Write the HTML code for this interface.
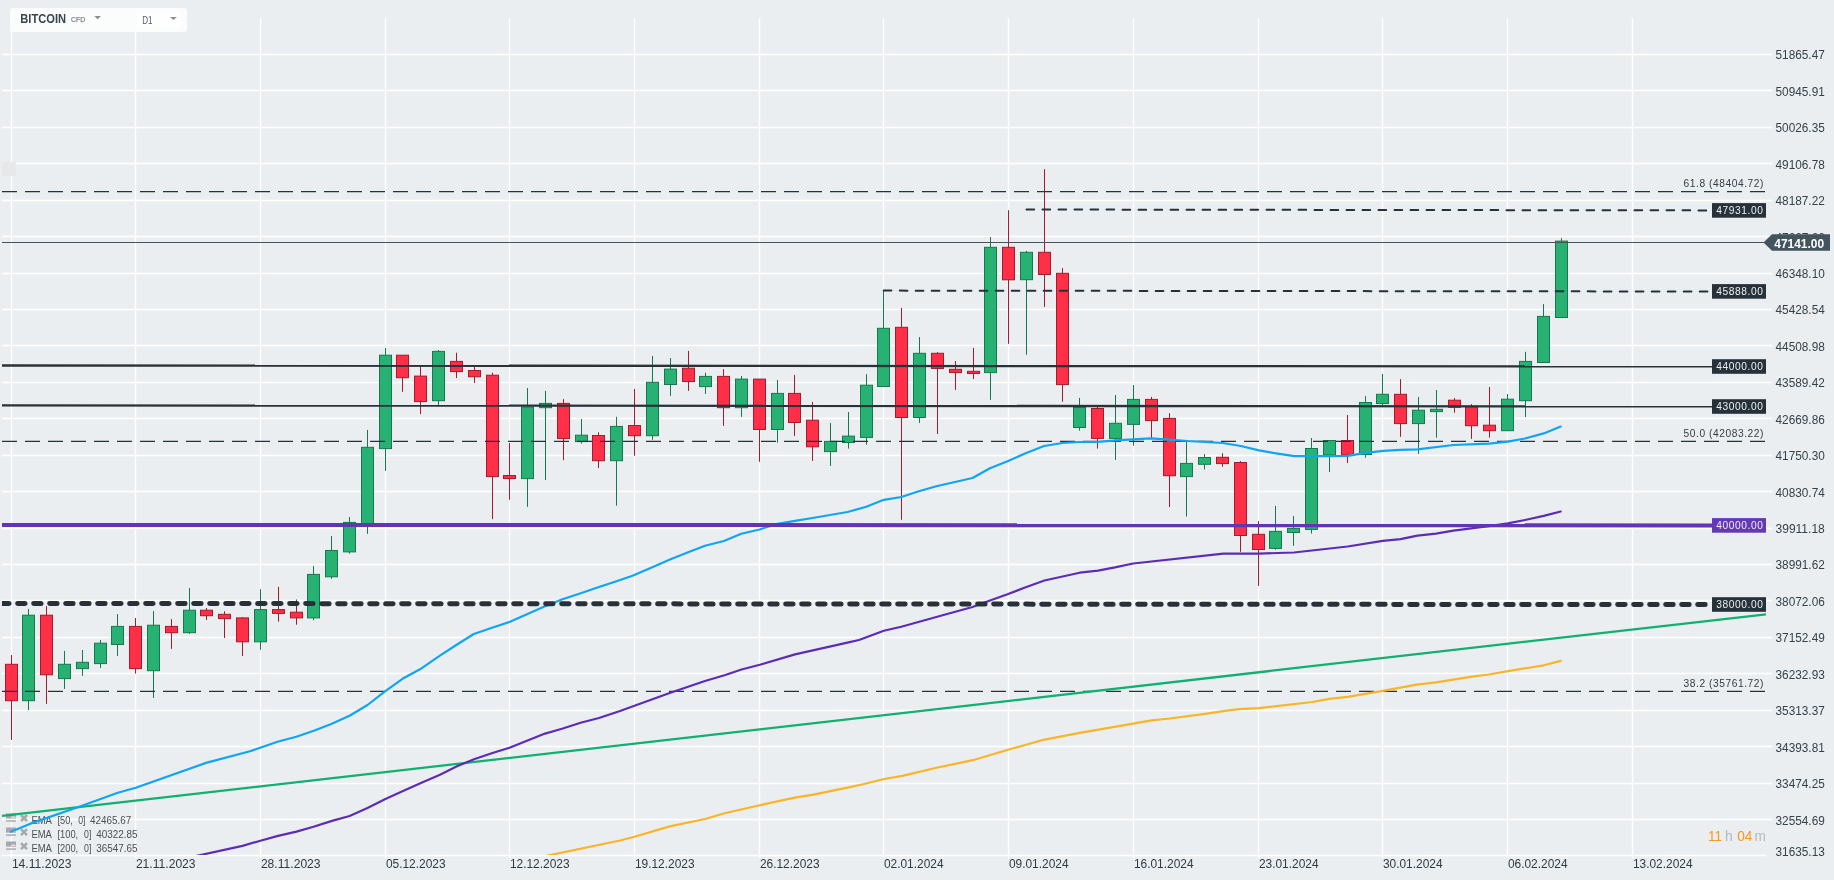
<!DOCTYPE html>
<html><head><meta charset="utf-8"><title>BITCOIN D1</title>
<style>html,body{margin:0;padding:0;background:#ebeef1;}body{width:1834px;height:880px;overflow:hidden;font-family:"Liberation Sans",sans-serif;}svg{display:block;will-change:transform;transform:translateZ(0);}text{font-family:"Liberation Sans",sans-serif;}</style>
</head><body>
<svg width="1834" height="880" viewBox="0 0 1834 880">
<rect x="0" y="0" width="1834" height="880" fill="#ebeef1"/>
<defs><clipPath id="cl"><rect x="2" y="0" width="1770" height="856"/></clipPath><clipPath id="cl2"><rect x="2" y="18" width="1770" height="837"/></clipPath></defs>
<g stroke="#ffffff" stroke-width="1.3" fill="none">
<line x1="11.5" y1="18" x2="11.5" y2="858"/>
<line x1="135.5" y1="18" x2="135.5" y2="858"/>
<line x1="260.5" y1="18" x2="260.5" y2="858"/>
<line x1="385.5" y1="18" x2="385.5" y2="858"/>
<line x1="509.5" y1="18" x2="509.5" y2="858"/>
<line x1="634.5" y1="18" x2="634.5" y2="858"/>
<line x1="759.5" y1="18" x2="759.5" y2="858"/>
<line x1="883.5" y1="18" x2="883.5" y2="858"/>
<line x1="1008.5" y1="18" x2="1008.5" y2="858"/>
<line x1="1133.5" y1="18" x2="1133.5" y2="858"/>
<line x1="1258.5" y1="18" x2="1258.5" y2="858"/>
<line x1="1382.5" y1="18" x2="1382.5" y2="858"/>
<line x1="1507.5" y1="18" x2="1507.5" y2="858"/>
<line x1="1632.5" y1="18" x2="1632.5" y2="858"/>
<line x1="2" y1="54.5" x2="1772" y2="54.5"/>
<line x1="2" y1="90.5" x2="1772" y2="90.5"/>
<line x1="2" y1="127.5" x2="1772" y2="127.5"/>
<line x1="2" y1="163.5" x2="1772" y2="163.5"/>
<line x1="2" y1="200.5" x2="1772" y2="200.5"/>
<line x1="2" y1="236.5" x2="1772" y2="236.5"/>
<line x1="2" y1="273.5" x2="1772" y2="273.5"/>
<line x1="2" y1="309.5" x2="1772" y2="309.5"/>
<line x1="2" y1="345.5" x2="1772" y2="345.5"/>
<line x1="2" y1="382.5" x2="1772" y2="382.5"/>
<line x1="2" y1="418.5" x2="1772" y2="418.5"/>
<line x1="2" y1="455.5" x2="1772" y2="455.5"/>
<line x1="2" y1="491.5" x2="1772" y2="491.5"/>
<line x1="2" y1="528.5" x2="1772" y2="528.5"/>
<line x1="2" y1="564.5" x2="1772" y2="564.5"/>
<line x1="2" y1="600.5" x2="1772" y2="600.5"/>
<line x1="2" y1="637.5" x2="1772" y2="637.5"/>
<line x1="2" y1="673.5" x2="1772" y2="673.5"/>
<line x1="2" y1="710.5" x2="1772" y2="710.5"/>
<line x1="2" y1="746.5" x2="1772" y2="746.5"/>
<line x1="2" y1="783.5" x2="1772" y2="783.5"/>
<line x1="2" y1="819.5" x2="1772" y2="819.5"/>
<line x1="2" y1="855.5" x2="1766" y2="855.5"/>
</g>
<rect x="2" y="162" width="14" height="14" fill="#e6e8ea"/>
<g font-size="12" fill="#36424a">
<text x="1775.5" y="58.8" textLength="49.3" lengthAdjust="spacingAndGlyphs">51865.47</text>
<text x="1775.5" y="95.8" textLength="49.3" lengthAdjust="spacingAndGlyphs">50945.91</text>
<text x="1775.5" y="131.8" textLength="49.3" lengthAdjust="spacingAndGlyphs">50026.35</text>
<text x="1775.5" y="168.8" textLength="49.3" lengthAdjust="spacingAndGlyphs">49106.78</text>
<text x="1775.5" y="204.8" textLength="49.3" lengthAdjust="spacingAndGlyphs">48187.22</text>
<text x="1775.5" y="241.8" textLength="49.3" lengthAdjust="spacingAndGlyphs">47267.66</text>
<text x="1775.5" y="277.8" textLength="49.3" lengthAdjust="spacingAndGlyphs">46348.10</text>
<text x="1775.5" y="313.8" textLength="49.3" lengthAdjust="spacingAndGlyphs">45428.54</text>
<text x="1775.5" y="350.8" textLength="49.3" lengthAdjust="spacingAndGlyphs">44508.98</text>
<text x="1775.5" y="386.8" textLength="49.3" lengthAdjust="spacingAndGlyphs">43589.42</text>
<text x="1775.5" y="423.8" textLength="49.3" lengthAdjust="spacingAndGlyphs">42669.86</text>
<text x="1775.5" y="459.8" textLength="49.3" lengthAdjust="spacingAndGlyphs">41750.30</text>
<text x="1775.5" y="496.8" textLength="49.3" lengthAdjust="spacingAndGlyphs">40830.74</text>
<text x="1775.5" y="532.8" textLength="49.3" lengthAdjust="spacingAndGlyphs">39911.18</text>
<text x="1775.5" y="568.8" textLength="49.3" lengthAdjust="spacingAndGlyphs">38991.62</text>
<text x="1775.5" y="605.8" textLength="49.3" lengthAdjust="spacingAndGlyphs">38072.06</text>
<text x="1775.5" y="641.8" textLength="49.3" lengthAdjust="spacingAndGlyphs">37152.49</text>
<text x="1775.5" y="678.8" textLength="49.3" lengthAdjust="spacingAndGlyphs">36232.93</text>
<text x="1775.5" y="714.8" textLength="49.3" lengthAdjust="spacingAndGlyphs">35313.37</text>
<text x="1775.5" y="751.8" textLength="49.3" lengthAdjust="spacingAndGlyphs">34393.81</text>
<text x="1775.5" y="787.8" textLength="49.3" lengthAdjust="spacingAndGlyphs">33474.25</text>
<text x="1775.5" y="824.8" textLength="49.3" lengthAdjust="spacingAndGlyphs">32554.69</text>
<text x="1775.5" y="855.9" textLength="49.3" lengthAdjust="spacingAndGlyphs">31635.13</text>
</g>
<g font-size="12" fill="#2f3a42">
<text x="11.9" y="868" textLength="59.7" lengthAdjust="spacingAndGlyphs">14.11.2023</text>
<text x="135.9" y="868" textLength="59.7" lengthAdjust="spacingAndGlyphs">21.11.2023</text>
<text x="260.9" y="868" textLength="59.7" lengthAdjust="spacingAndGlyphs">28.11.2023</text>
<text x="385.9" y="868" textLength="59.7" lengthAdjust="spacingAndGlyphs">05.12.2023</text>
<text x="509.9" y="868" textLength="59.7" lengthAdjust="spacingAndGlyphs">12.12.2023</text>
<text x="634.9" y="868" textLength="59.7" lengthAdjust="spacingAndGlyphs">19.12.2023</text>
<text x="759.9" y="868" textLength="59.7" lengthAdjust="spacingAndGlyphs">26.12.2023</text>
<text x="883.9" y="868" textLength="59.7" lengthAdjust="spacingAndGlyphs">02.01.2024</text>
<text x="1008.9" y="868" textLength="59.7" lengthAdjust="spacingAndGlyphs">09.01.2024</text>
<text x="1133.9" y="868" textLength="59.7" lengthAdjust="spacingAndGlyphs">16.01.2024</text>
<text x="1258.9" y="868" textLength="59.7" lengthAdjust="spacingAndGlyphs">23.01.2024</text>
<text x="1382.9" y="868" textLength="59.7" lengthAdjust="spacingAndGlyphs">30.01.2024</text>
<text x="1507.9" y="868" textLength="59.7" lengthAdjust="spacingAndGlyphs">06.02.2024</text>
<text x="1632.9" y="868" textLength="59.7" lengthAdjust="spacingAndGlyphs">13.02.2024</text>
</g>
<g stroke-width="1">
<line x1="11.5" y1="655.0" x2="11.5" y2="740.0" stroke="#a51a2d" stroke-width="1"/>
<rect x="5.5" y="664.3" width="12.0" height="36.4" fill="#fe2f47" stroke="#a51a2d"/>
<line x1="28.5" y1="608.9" x2="28.5" y2="710.0" stroke="#147a4e" stroke-width="1"/>
<rect x="22.5" y="615.2" width="12.0" height="85.5" fill="#27b173" stroke="#147a4e"/>
<line x1="46.5" y1="606.1" x2="46.5" y2="703.9" stroke="#a51a2d" stroke-width="1"/>
<rect x="40.5" y="615.2" width="12.0" height="59.6" fill="#fe2f47" stroke="#a51a2d"/>
<line x1="64.5" y1="650.9" x2="64.5" y2="688.9" stroke="#147a4e" stroke-width="1"/>
<rect x="58.5" y="664.3" width="12.0" height="14.3" fill="#27b173" stroke="#147a4e"/>
<line x1="82.5" y1="650.0" x2="82.5" y2="675.9" stroke="#147a4e" stroke-width="1"/>
<rect x="76.5" y="662.3" width="12.0" height="6.3" fill="#27b173" stroke="#147a4e"/>
<line x1="100.5" y1="640.0" x2="100.5" y2="668.0" stroke="#147a4e" stroke-width="1"/>
<rect x="94.5" y="643.2" width="12.0" height="20.4" fill="#27b173" stroke="#147a4e"/>
<line x1="117.5" y1="614.1" x2="117.5" y2="655.9" stroke="#147a4e" stroke-width="1"/>
<rect x="111.5" y="626.4" width="12.0" height="18.1" fill="#27b173" stroke="#147a4e"/>
<line x1="135.5" y1="618.0" x2="135.5" y2="673.6" stroke="#a51a2d" stroke-width="1"/>
<rect x="129.5" y="626.4" width="12.0" height="42.2" fill="#fe2f47" stroke="#a51a2d"/>
<line x1="153.5" y1="611.1" x2="153.5" y2="698.0" stroke="#147a4e" stroke-width="1"/>
<rect x="147.5" y="625.2" width="12.0" height="45.5" fill="#27b173" stroke="#147a4e"/>
<line x1="171.5" y1="619.1" x2="171.5" y2="648.9" stroke="#a51a2d" stroke-width="1"/>
<rect x="165.5" y="626.4" width="12.0" height="6.3" fill="#fe2f47" stroke="#a51a2d"/>
<line x1="189.5" y1="588.0" x2="189.5" y2="633.9" stroke="#147a4e" stroke-width="1"/>
<rect x="183.5" y="610.2" width="12.0" height="22.5" fill="#27b173" stroke="#147a4e"/>
<line x1="206.5" y1="608.0" x2="206.5" y2="620.0" stroke="#a51a2d" stroke-width="1"/>
<rect x="200.5" y="610.2" width="12.0" height="5.5" fill="#fe2f47" stroke="#a51a2d"/>
<line x1="224.5" y1="611.2" x2="224.5" y2="638.0" stroke="#a51a2d" stroke-width="1"/>
<rect x="218.5" y="614.3" width="12.0" height="4.3" fill="#fe2f47" stroke="#a51a2d"/>
<line x1="242.5" y1="617.0" x2="242.5" y2="656.0" stroke="#a51a2d" stroke-width="1"/>
<rect x="236.5" y="617.9" width="12.0" height="23.9" fill="#fe2f47" stroke="#a51a2d"/>
<line x1="260.5" y1="589.2" x2="260.5" y2="649.8" stroke="#147a4e" stroke-width="1"/>
<rect x="254.5" y="609.6" width="12.0" height="32.2" fill="#27b173" stroke="#147a4e"/>
<line x1="278.5" y1="586.8" x2="278.5" y2="621.7" stroke="#a51a2d" stroke-width="1"/>
<rect x="272.5" y="609.6" width="12.0" height="3.8" fill="#fe2f47" stroke="#a51a2d"/>
<line x1="296.5" y1="599.5" x2="296.5" y2="624.7" stroke="#a51a2d" stroke-width="1"/>
<rect x="290.5" y="612.2" width="12.0" height="5.7" fill="#fe2f47" stroke="#a51a2d"/>
<line x1="313.5" y1="566.1" x2="313.5" y2="620.2" stroke="#147a4e" stroke-width="1"/>
<rect x="307.5" y="574.4" width="12.0" height="43.5" fill="#27b173" stroke="#147a4e"/>
<line x1="331.5" y1="536.0" x2="331.5" y2="578.8" stroke="#147a4e" stroke-width="1"/>
<rect x="325.5" y="550.5" width="12.0" height="26.3" fill="#27b173" stroke="#147a4e"/>
<line x1="349.5" y1="517.0" x2="349.5" y2="553.7" stroke="#147a4e" stroke-width="1"/>
<rect x="343.5" y="522.4" width="12.0" height="29.5" fill="#27b173" stroke="#147a4e"/>
<line x1="367.5" y1="429.9" x2="367.5" y2="533.9" stroke="#147a4e" stroke-width="1"/>
<rect x="361.5" y="447.3" width="12.0" height="76.3" fill="#27b173" stroke="#147a4e"/>
<line x1="385.5" y1="348.0" x2="385.5" y2="470.9" stroke="#147a4e" stroke-width="1"/>
<rect x="379.5" y="355.2" width="12.0" height="93.4" fill="#27b173" stroke="#147a4e"/>
<line x1="402.5" y1="355.2" x2="402.5" y2="391.8" stroke="#a51a2d" stroke-width="1"/>
<rect x="396.5" y="355.2" width="12.0" height="22.5" fill="#fe2f47" stroke="#a51a2d"/>
<line x1="420.5" y1="366.4" x2="420.5" y2="414.1" stroke="#a51a2d" stroke-width="1"/>
<rect x="414.5" y="376.1" width="12.0" height="25.5" fill="#fe2f47" stroke="#a51a2d"/>
<line x1="438.5" y1="350.0" x2="438.5" y2="405.0" stroke="#147a4e" stroke-width="1"/>
<rect x="432.5" y="351.4" width="12.0" height="49.3" fill="#27b173" stroke="#147a4e"/>
<line x1="456.5" y1="352.7" x2="456.5" y2="378.0" stroke="#a51a2d" stroke-width="1"/>
<rect x="450.5" y="361.4" width="12.0" height="10.2" fill="#fe2f47" stroke="#a51a2d"/>
<line x1="474.5" y1="367.0" x2="474.5" y2="383.0" stroke="#a51a2d" stroke-width="1"/>
<rect x="468.5" y="370.5" width="12.0" height="6.3" fill="#fe2f47" stroke="#a51a2d"/>
<line x1="492.5" y1="372.7" x2="492.5" y2="519.1" stroke="#a51a2d" stroke-width="1"/>
<rect x="486.5" y="375.2" width="12.0" height="101.4" fill="#fe2f47" stroke="#a51a2d"/>
<line x1="509.5" y1="443.0" x2="509.5" y2="499.8" stroke="#a51a2d" stroke-width="1"/>
<rect x="503.5" y="475.5" width="12.0" height="3.1" fill="#fe2f47" stroke="#a51a2d"/>
<line x1="527.5" y1="388.0" x2="527.5" y2="506.8" stroke="#147a4e" stroke-width="1"/>
<rect x="521.5" y="407.0" width="12.0" height="71.6" fill="#27b173" stroke="#147a4e"/>
<line x1="545.5" y1="390.9" x2="545.5" y2="480.0" stroke="#147a4e" stroke-width="1"/>
<rect x="539.5" y="403.4" width="12.0" height="4.3" fill="#27b173" stroke="#147a4e"/>
<line x1="563.5" y1="399.1" x2="563.5" y2="460.2" stroke="#a51a2d" stroke-width="1"/>
<rect x="557.5" y="403.4" width="12.0" height="35.2" fill="#fe2f47" stroke="#a51a2d"/>
<line x1="581.5" y1="418.9" x2="581.5" y2="443.6" stroke="#147a4e" stroke-width="1"/>
<rect x="575.5" y="435.2" width="12.0" height="6.4" fill="#27b173" stroke="#147a4e"/>
<line x1="598.5" y1="432.3" x2="598.5" y2="468.0" stroke="#a51a2d" stroke-width="1"/>
<rect x="592.5" y="435.5" width="12.0" height="25.2" fill="#fe2f47" stroke="#a51a2d"/>
<line x1="616.5" y1="416.8" x2="616.5" y2="505.7" stroke="#147a4e" stroke-width="1"/>
<rect x="610.5" y="426.4" width="12.0" height="34.3" fill="#27b173" stroke="#147a4e"/>
<line x1="634.5" y1="388.9" x2="634.5" y2="455.7" stroke="#a51a2d" stroke-width="1"/>
<rect x="628.5" y="425.5" width="12.0" height="10.2" fill="#fe2f47" stroke="#a51a2d"/>
<line x1="652.5" y1="355.9" x2="652.5" y2="439.8" stroke="#147a4e" stroke-width="1"/>
<rect x="646.5" y="382.3" width="12.0" height="53.4" fill="#27b173" stroke="#147a4e"/>
<line x1="670.5" y1="358.0" x2="670.5" y2="395.9" stroke="#147a4e" stroke-width="1"/>
<rect x="664.5" y="369.1" width="12.0" height="15.4" fill="#27b173" stroke="#147a4e"/>
<line x1="688.5" y1="350.9" x2="688.5" y2="390.9" stroke="#a51a2d" stroke-width="1"/>
<rect x="682.5" y="368.2" width="12.0" height="13.4" fill="#fe2f47" stroke="#a51a2d"/>
<line x1="705.5" y1="372.7" x2="705.5" y2="393.9" stroke="#147a4e" stroke-width="1"/>
<rect x="699.5" y="376.4" width="12.0" height="10.2" fill="#27b173" stroke="#147a4e"/>
<line x1="723.5" y1="369.1" x2="723.5" y2="425.9" stroke="#a51a2d" stroke-width="1"/>
<rect x="717.5" y="376.4" width="12.0" height="31.3" fill="#fe2f47" stroke="#a51a2d"/>
<line x1="741.5" y1="375.9" x2="741.5" y2="416.8" stroke="#147a4e" stroke-width="1"/>
<rect x="735.5" y="379.1" width="12.0" height="28.6" fill="#27b173" stroke="#147a4e"/>
<line x1="759.5" y1="379.1" x2="759.5" y2="461.8" stroke="#a51a2d" stroke-width="1"/>
<rect x="753.5" y="379.1" width="12.0" height="50.4" fill="#fe2f47" stroke="#a51a2d"/>
<line x1="777.5" y1="380.0" x2="777.5" y2="442.7" stroke="#147a4e" stroke-width="1"/>
<rect x="771.5" y="393.4" width="12.0" height="36.1" fill="#27b173" stroke="#147a4e"/>
<line x1="794.5" y1="375.0" x2="794.5" y2="435.9" stroke="#a51a2d" stroke-width="1"/>
<rect x="788.5" y="393.4" width="12.0" height="29.1" fill="#fe2f47" stroke="#a51a2d"/>
<line x1="812.5" y1="402.0" x2="812.5" y2="460.9" stroke="#a51a2d" stroke-width="1"/>
<rect x="806.5" y="420.2" width="12.0" height="26.6" fill="#fe2f47" stroke="#a51a2d"/>
<line x1="830.5" y1="423.0" x2="830.5" y2="465.9" stroke="#147a4e" stroke-width="1"/>
<rect x="824.5" y="441.4" width="12.0" height="10.2" fill="#27b173" stroke="#147a4e"/>
<line x1="848.5" y1="412.0" x2="848.5" y2="448.6" stroke="#147a4e" stroke-width="1"/>
<rect x="842.5" y="436.1" width="12.0" height="6.4" fill="#27b173" stroke="#147a4e"/>
<line x1="866.5" y1="374.2" x2="866.5" y2="444.8" stroke="#147a4e" stroke-width="1"/>
<rect x="860.5" y="385.2" width="12.0" height="52.2" fill="#27b173" stroke="#147a4e"/>
<line x1="883.5" y1="290.5" x2="883.5" y2="386.5" stroke="#147a4e" stroke-width="1"/>
<rect x="877.5" y="328.3" width="12.0" height="58.2" fill="#27b173" stroke="#147a4e"/>
<line x1="901.5" y1="307.9" x2="901.5" y2="519.8" stroke="#a51a2d" stroke-width="1"/>
<rect x="895.5" y="327.3" width="12.0" height="90.2" fill="#fe2f47" stroke="#a51a2d"/>
<line x1="919.5" y1="337.0" x2="919.5" y2="422.9" stroke="#147a4e" stroke-width="1"/>
<rect x="913.5" y="353.3" width="12.0" height="64.2" fill="#27b173" stroke="#147a4e"/>
<line x1="937.5" y1="352.1" x2="937.5" y2="434.0" stroke="#a51a2d" stroke-width="1"/>
<rect x="931.5" y="353.3" width="12.0" height="15.2" fill="#fe2f47" stroke="#a51a2d"/>
<line x1="955.5" y1="361.0" x2="955.5" y2="389.9" stroke="#a51a2d" stroke-width="1"/>
<rect x="949.5" y="369.3" width="12.0" height="3.3" fill="#fe2f47" stroke="#a51a2d"/>
<line x1="973.5" y1="347.9" x2="973.5" y2="379.0" stroke="#a51a2d" stroke-width="1"/>
<rect x="967.5" y="371.3" width="12.0" height="2.2" fill="#fe2f47" stroke="#a51a2d"/>
<line x1="990.5" y1="237.0" x2="990.5" y2="399.9" stroke="#147a4e" stroke-width="1"/>
<rect x="984.5" y="247.3" width="12.0" height="125.3" fill="#27b173" stroke="#147a4e"/>
<line x1="1008.5" y1="210.2" x2="1008.5" y2="343.8" stroke="#a51a2d" stroke-width="1"/>
<rect x="1002.5" y="247.3" width="12.0" height="32.5" fill="#fe2f47" stroke="#a51a2d"/>
<line x1="1026.5" y1="250.8" x2="1026.5" y2="354.8" stroke="#147a4e" stroke-width="1"/>
<rect x="1020.5" y="252.3" width="12.0" height="27.4" fill="#27b173" stroke="#147a4e"/>
<line x1="1044.5" y1="169.1" x2="1044.5" y2="306.9" stroke="#a51a2d" stroke-width="1"/>
<rect x="1038.5" y="252.3" width="12.0" height="22.2" fill="#fe2f47" stroke="#a51a2d"/>
<line x1="1062.5" y1="268.1" x2="1062.5" y2="401.8" stroke="#a51a2d" stroke-width="1"/>
<rect x="1056.5" y="273.3" width="12.0" height="111.3" fill="#fe2f47" stroke="#a51a2d"/>
<line x1="1079.5" y1="397.9" x2="1079.5" y2="430.7" stroke="#147a4e" stroke-width="1"/>
<rect x="1073.5" y="407.4" width="12.0" height="20.1" fill="#27b173" stroke="#147a4e"/>
<line x1="1097.5" y1="406.6" x2="1097.5" y2="448.6" stroke="#a51a2d" stroke-width="1"/>
<rect x="1091.5" y="408.5" width="12.0" height="29.9" fill="#fe2f47" stroke="#a51a2d"/>
<line x1="1115.5" y1="395.0" x2="1115.5" y2="459.8" stroke="#147a4e" stroke-width="1"/>
<rect x="1109.5" y="423.3" width="12.0" height="15.1" fill="#27b173" stroke="#147a4e"/>
<line x1="1133.5" y1="385.0" x2="1133.5" y2="445.7" stroke="#147a4e" stroke-width="1"/>
<rect x="1127.5" y="399.4" width="12.0" height="25.0" fill="#27b173" stroke="#147a4e"/>
<line x1="1151.5" y1="396.9" x2="1151.5" y2="438.9" stroke="#a51a2d" stroke-width="1"/>
<rect x="1145.5" y="399.4" width="12.0" height="21.2" fill="#fe2f47" stroke="#a51a2d"/>
<line x1="1169.5" y1="413.1" x2="1169.5" y2="507.0" stroke="#a51a2d" stroke-width="1"/>
<rect x="1163.5" y="418.4" width="12.0" height="57.3" fill="#fe2f47" stroke="#a51a2d"/>
<line x1="1186.5" y1="441.1" x2="1186.5" y2="516.6" stroke="#147a4e" stroke-width="1"/>
<rect x="1180.5" y="463.4" width="12.0" height="13.2" fill="#27b173" stroke="#147a4e"/>
<line x1="1204.5" y1="454.1" x2="1204.5" y2="469.5" stroke="#147a4e" stroke-width="1"/>
<rect x="1198.5" y="457.5" width="12.0" height="6.8" fill="#27b173" stroke="#147a4e"/>
<line x1="1222.5" y1="453.2" x2="1222.5" y2="466.8" stroke="#a51a2d" stroke-width="1"/>
<rect x="1216.5" y="457.3" width="12.0" height="6.3" fill="#fe2f47" stroke="#a51a2d"/>
<line x1="1240.5" y1="461.1" x2="1240.5" y2="551.8" stroke="#a51a2d" stroke-width="1"/>
<rect x="1234.5" y="462.5" width="12.0" height="73.0" fill="#fe2f47" stroke="#a51a2d"/>
<line x1="1258.5" y1="521.1" x2="1258.5" y2="585.9" stroke="#a51a2d" stroke-width="1"/>
<rect x="1252.5" y="534.3" width="12.0" height="15.2" fill="#fe2f47" stroke="#a51a2d"/>
<line x1="1275.5" y1="505.9" x2="1275.5" y2="549.8" stroke="#147a4e" stroke-width="1"/>
<rect x="1269.5" y="531.4" width="12.0" height="17.0" fill="#27b173" stroke="#147a4e"/>
<line x1="1293.5" y1="516.0" x2="1293.5" y2="545.8" stroke="#147a4e" stroke-width="1"/>
<rect x="1287.5" y="528.4" width="12.0" height="4.1" fill="#27b173" stroke="#147a4e"/>
<line x1="1311.5" y1="438.0" x2="1311.5" y2="533.6" stroke="#147a4e" stroke-width="1"/>
<rect x="1305.5" y="448.5" width="12.0" height="80.9" fill="#27b173" stroke="#147a4e"/>
<line x1="1329.5" y1="440.0" x2="1329.5" y2="472.0" stroke="#147a4e" stroke-width="1"/>
<rect x="1323.5" y="440.5" width="12.0" height="14.5" fill="#27b173" stroke="#147a4e"/>
<line x1="1347.5" y1="415.0" x2="1347.5" y2="463.0" stroke="#a51a2d" stroke-width="1"/>
<rect x="1341.5" y="440.5" width="12.0" height="14.5" fill="#fe2f47" stroke="#a51a2d"/>
<line x1="1365.5" y1="396.1" x2="1365.5" y2="457.7" stroke="#147a4e" stroke-width="1"/>
<rect x="1359.5" y="402.5" width="12.0" height="52.0" fill="#27b173" stroke="#147a4e"/>
<line x1="1382.5" y1="373.9" x2="1382.5" y2="405.2" stroke="#147a4e" stroke-width="1"/>
<rect x="1376.5" y="394.3" width="12.0" height="9.3" fill="#27b173" stroke="#147a4e"/>
<line x1="1400.5" y1="379.1" x2="1400.5" y2="436.8" stroke="#a51a2d" stroke-width="1"/>
<rect x="1394.5" y="394.3" width="12.0" height="29.3" fill="#fe2f47" stroke="#a51a2d"/>
<line x1="1418.5" y1="397.0" x2="1418.5" y2="453.9" stroke="#147a4e" stroke-width="1"/>
<rect x="1412.5" y="410.2" width="12.0" height="13.4" fill="#27b173" stroke="#147a4e"/>
<line x1="1436.5" y1="390.0" x2="1436.5" y2="437.7" stroke="#147a4e" stroke-width="1"/>
<rect x="1430.5" y="409.3" width="12.0" height="2.3" fill="#27b173" stroke="#147a4e"/>
<line x1="1454.5" y1="398.0" x2="1454.5" y2="412.7" stroke="#a51a2d" stroke-width="1"/>
<rect x="1448.5" y="400.2" width="12.0" height="7.1" fill="#fe2f47" stroke="#a51a2d"/>
<line x1="1471.5" y1="404.1" x2="1471.5" y2="438.9" stroke="#a51a2d" stroke-width="1"/>
<rect x="1465.5" y="406.8" width="12.0" height="18.9" fill="#fe2f47" stroke="#a51a2d"/>
<line x1="1489.5" y1="387.0" x2="1489.5" y2="437.7" stroke="#a51a2d" stroke-width="1"/>
<rect x="1483.5" y="425.2" width="12.0" height="5.5" fill="#fe2f47" stroke="#a51a2d"/>
<line x1="1507.5" y1="394.0" x2="1507.5" y2="430.7" stroke="#147a4e" stroke-width="1"/>
<rect x="1501.5" y="399.2" width="12.0" height="31.5" fill="#27b173" stroke="#147a4e"/>
<line x1="1525.5" y1="351.8" x2="1525.5" y2="417.0" stroke="#147a4e" stroke-width="1"/>
<rect x="1519.5" y="361.4" width="12.0" height="39.3" fill="#27b173" stroke="#147a4e"/>
<line x1="1543.5" y1="304.1" x2="1543.5" y2="362.5" stroke="#147a4e" stroke-width="1"/>
<rect x="1537.5" y="316.4" width="12.0" height="46.1" fill="#27b173" stroke="#147a4e"/>
<line x1="1561.5" y1="238.2" x2="1561.5" y2="317.5" stroke="#147a4e" stroke-width="1"/>
<rect x="1555.5" y="241.1" width="12.0" height="76.4" fill="#27b173" stroke="#147a4e"/>
</g>
<g stroke="#273138" stroke-width="1.25" stroke-dasharray="15 8" fill="none">
<line x1="2" y1="191.5" x2="1766" y2="191.5"/>
<line x1="2" y1="441.4" x2="1766" y2="441.4"/>
<line x1="2" y1="691.3" x2="1766" y2="691.3"/>
</g>
<line x1="2" y1="365.5" x2="1713" y2="366.4" stroke="#27323a" stroke-width="2.3"/>
<line x1="2" y1="405.4" x2="1713" y2="406.4" stroke="#27323a" stroke-width="2.3"/>
<rect x="6" y="813.4" width="10" height="5.1" fill="#a7a8a9"/>
<rect x="11.2" y="816.5" width="4.2" height="1.4" fill="#e2e4e6"/>
<rect x="6" y="820.3" width="10" height="1.4" fill="#a7a8a9"/>
<path d="M21,815.0 L27,821.0 M27,815.0 L21,821.0" stroke="#a7a8a9" stroke-width="2.6" fill="none"/>
<g font-size="10" fill="#4c5053">
<text x="31.4" y="823.9" textLength="20.5" lengthAdjust="spacingAndGlyphs">EMA</text>
<text x="57.5" y="823.9" textLength="15.3" lengthAdjust="spacingAndGlyphs">[50,</text>
<text x="78.2" y="823.9" textLength="7.3" lengthAdjust="spacingAndGlyphs">0]</text>
<text x="90.0" y="823.9" textLength="41.4" lengthAdjust="spacingAndGlyphs">42465.67</text>
</g>
<rect x="6" y="827.5" width="10" height="5.1" fill="#a7a8a9"/>
<rect x="11.2" y="830.6" width="4.2" height="1.4" fill="#e2e4e6"/>
<rect x="6" y="834.4" width="10" height="1.4" fill="#a7a8a9"/>
<path d="M21,829.1 L27,835.1 M27,829.1 L21,835.1" stroke="#a7a8a9" stroke-width="2.6" fill="none"/>
<g font-size="10" fill="#4c5053">
<text x="31.4" y="838.0" textLength="20.5" lengthAdjust="spacingAndGlyphs">EMA</text>
<text x="57.5" y="838.0" textLength="20.7" lengthAdjust="spacingAndGlyphs">[100,</text>
<text x="84.1" y="838.0" textLength="7.3" lengthAdjust="spacingAndGlyphs">0]</text>
<text x="96.2" y="838.0" textLength="41.4" lengthAdjust="spacingAndGlyphs">40322.85</text>
</g>
<rect x="6" y="841.5" width="10" height="5.1" fill="#a7a8a9"/>
<rect x="11.2" y="844.6" width="4.2" height="1.4" fill="#e2e4e6"/>
<rect x="6" y="848.4" width="10" height="1.4" fill="#a7a8a9"/>
<path d="M21,843.1 L27,849.1 M27,843.1 L21,849.1" stroke="#a7a8a9" stroke-width="2.6" fill="none"/>
<g font-size="10" fill="#4c5053">
<text x="31.4" y="852.0" textLength="20.5" lengthAdjust="spacingAndGlyphs">EMA</text>
<text x="57.5" y="852.0" textLength="20.7" lengthAdjust="spacingAndGlyphs">[200,</text>
<text x="84.1" y="852.0" textLength="7.3" lengthAdjust="spacingAndGlyphs">0]</text>
<text x="96.2" y="852.0" textLength="41.4" lengthAdjust="spacingAndGlyphs">36547.65</text>
</g>
<line x1="2" y1="815.9" x2="1766" y2="614.3" stroke="#10b070" stroke-width="2.25"/>
<path d="M536.0,858.0 L546.5,855.8 L620.0,840.5 L634.4,836.8 L669.7,826.4 L705.0,819.0 L724.5,813.3 L759.8,805.2 L795.0,797.6 L813.4,794.7 L847.4,787.7 L863.0,784.3 L884.0,779.0 L902.3,775.9 L937.6,767.5 L972.8,760.2 L1008.0,749.8 L1043.4,739.8 L1079.7,732.9 L1133.2,723.7 L1151.5,720.3 L1169.8,718.5 L1205.0,713.8 L1223.4,711.2 L1239.0,709.1 L1258.7,708.1 L1312.3,702.0 L1329.3,698.9 L1347.6,696.8 L1382.8,690.8 L1416.8,684.6 L1436.0,682.4 L1472.0,676.6 L1489.0,674.5 L1507.9,671.1 L1543.7,665.3 L1560.7,660.9" stroke="#f8b527" stroke-width="2.2" fill="none" stroke-linejoin="round" stroke-linecap="round" clip-path="url(#cl2)"/>
<path d="M186.0,858.0 L197.0,855.8 L242.5,845.9 L260.4,840.7 L278.0,835.9 L296.5,831.6 L313.5,826.8 L332.0,820.9 L349.6,816.0 L367.5,808.0 L385.4,799.0 L403.0,791.0 L421.5,782.8 L440.0,774.8 L457.0,766.3 L474.0,759.2 L492.5,753.0 L509.5,747.8 L545.0,733.6 L562.0,728.8 L580.6,722.8 L599.0,718.0 L620.0,711.0 L669.7,693.0 L705.0,681.0 L724.5,675.3 L741.5,669.5 L759.8,664.8 L795.0,654.4 L847.4,642.6 L859.0,640.0 L883.8,630.8 L901.3,626.8 L936.3,617.0 L972.5,607.0 L990.0,600.5 L1007.5,594.3 L1025.0,587.5 L1044.4,580.5 L1079.7,572.7 L1098.0,570.6 L1115.0,567.4 L1133.2,563.5 L1223.4,553.6 L1258.7,553.6 L1294.0,552.5 L1347.6,546.5 L1382.8,540.8 L1400.5,539.1 L1417.5,535.7 L1436.0,533.7 L1453.3,530.6 L1489.0,526.2 L1507.9,523.4 L1525.0,520.0 L1543.7,515.9 L1560.7,511.5" stroke="#5d2cb5" stroke-width="2.2" fill="none" stroke-linejoin="round" stroke-linecap="round" clip-path="url(#cl2)"/>
<path d="M10.9,831.8 L31.0,823.4 L78.5,807.0 L117.8,792.7 L135.8,787.8 L206.0,762.9 L250.0,751.3 L277.5,741.8 L296.3,736.8 L313.8,730.8 L331.3,724.0 L350.0,715.5 L367.5,705.0 L385.0,691.3 L402.5,678.8 L420.0,669.3 L438.8,656.3 L456.3,645.0 L473.8,634.0 L491.3,628.0 L510.0,621.8 L527.5,614.0 L545.0,606.3 L562.5,599.3 L580.0,593.5 L597.5,587.5 L615.0,581.8 L632.5,575.8 L650.0,568.3 L670.0,559.5 L687.5,552.5 L705.0,545.8 L723.8,541.0 L741.3,533.8 L759.5,529.5 L777.5,523.8 L795.0,520.8 L812.5,518.0 L830.0,515.0 L847.5,512.0 L866.3,506.8 L883.8,499.8 L901.3,497.0 L918.8,491.3 L936.3,486.3 L955.0,482.0 L972.5,478.0 L990.0,468.3 L1007.5,461.3 L1025.0,453.5 L1044.1,446.0 L1062.3,443.0 L1079.4,442.0 L1097.6,441.8 L1115.7,440.3 L1132.9,439.3 L1151.0,438.3 L1169.2,439.7 L1187.4,441.0 L1204.5,441.8 L1222.7,443.0 L1240.8,446.0 L1259.0,450.4 L1276.1,453.3 L1294.3,456.1 L1312.4,456.1 L1329.6,456.1 L1347.7,455.9 L1365.9,452.9 L1383.0,450.8 L1400.0,449.8 L1417.5,449.4 L1453.3,445.0 L1489.0,443.6 L1507.9,441.6 L1525.0,438.5 L1543.7,433.4 L1560.7,426.6" stroke="#10a5f2" stroke-width="2.2" fill="none" stroke-linejoin="round" stroke-linecap="round" clip-path="url(#cl2)"/>
<line x1="2" y1="524.9" x2="1713" y2="525.4" stroke="#6335b5" stroke-width="4"/>
<line x1="1.7" y1="603.4" x2="1708" y2="604.6" stroke="#26313a" stroke-width="5" stroke-dasharray="7.4 8.6" stroke-linecap="round" clip-path="url(#cl)"/>
<line x1="1026.5" y1="209.5" x2="1710" y2="210.4" stroke="#26313a" stroke-width="2" stroke-dasharray="7.7 8.3" stroke-linecap="round"/>
<line x1="883.7" y1="290.6" x2="1710" y2="291.5" stroke="#26313a" stroke-width="2" stroke-dasharray="7.7 8.3" stroke-linecap="round"/>
<line x1="2" y1="242.5" x2="1766" y2="242.5" stroke="#44545f" stroke-width="1.2"/>
<rect x="1712" y="203.1" width="54" height="14.6" fill="#26313a"/>
<text x="1716.2" y="213.9" font-size="10.2" fill="#efefef" textLength="46.8" lengthAdjust="spacing">47931.00</text>
<rect x="1712" y="284.1" width="54" height="14.6" fill="#26313a"/>
<text x="1716.2" y="294.9" font-size="10.2" fill="#efefef" textLength="46.8" lengthAdjust="spacing">45888.00</text>
<rect x="1712" y="359.2" width="54" height="14.6" fill="#26313a"/>
<text x="1716.2" y="370.0" font-size="10.2" fill="#efefef" textLength="46.8" lengthAdjust="spacing">44000.00</text>
<rect x="1712" y="399.2" width="54" height="14.6" fill="#26313a"/>
<text x="1716.2" y="410.0" font-size="10.2" fill="#efefef" textLength="46.8" lengthAdjust="spacing">43000.00</text>
<rect x="1712" y="518.1" width="54" height="14.6" fill="#6538b6"/>
<text x="1716.2" y="528.9" font-size="10.2" fill="#efefef" textLength="46.8" lengthAdjust="spacing">40000.00</text>
<rect x="1712" y="597.2" width="54" height="14.6" fill="#26313a"/>
<text x="1716.2" y="608.0" font-size="10.2" fill="#efefef" textLength="46.8" lengthAdjust="spacing">38000.00</text>
<text x="1763.5" y="187.3" font-size="10.2" fill="#333c42" text-anchor="end" textLength="80" lengthAdjust="spacing">61.8 (48404.72)</text>
<text x="1763.5" y="436.9" font-size="10.2" fill="#333c42" text-anchor="end" textLength="80" lengthAdjust="spacing">50.0 (42083.22)</text>
<text x="1763.5" y="687.0" font-size="10.2" fill="#333c42" text-anchor="end" textLength="80" lengthAdjust="spacing">38.2 (35761.72)</text>
<path d="M1763.5,242.5 L1772,234.2 L1830,234.2 L1830,250.8 L1772,250.8 Z" fill="#44545f"/>
<text x="1774.3" y="247.6" font-size="12" font-weight="bold" fill="#ffffff" textLength="49.8" lengthAdjust="spacingAndGlyphs">47141.00</text>
<g font-size="14">
<text x="1708" y="841" fill="#ff9416" textLength="14" lengthAdjust="spacingAndGlyphs">11</text>
<text x="1725" y="841" fill="#b4b9bd">h</text>
<text x="1737.2" y="841" fill="#ff9416" textLength="15.2" lengthAdjust="spacingAndGlyphs">04</text>
<text x="1754.4" y="841" fill="#b4b9bd" textLength="11.4" lengthAdjust="spacingAndGlyphs">m</text>
</g>
<rect x="10" y="8" width="177" height="24" rx="3" fill="#fbfdfc"/>
<rect x="137" y="11.7" width="44" height="16.1" rx="2" fill="#fefefe"/>
<text x="20.3" y="23" font-size="12" font-weight="bold" fill="#36454f" textLength="45.8" lengthAdjust="spacingAndGlyphs">BITCOIN</text>
<text x="71.1" y="21.9" font-size="8.1" fill="#80858a" stroke="#80858a" stroke-width="0.25" textLength="14.3" lengthAdjust="spacingAndGlyphs">CFD</text>
<path d="M94.3,16 L101,16 L97.65,19.2 Z" fill="#8a8d90"/>
<text x="142.3" y="24" font-size="10" fill="#4f5d66" textLength="10.3" lengthAdjust="spacingAndGlyphs">D1</text>
<path d="M170,17 L176.8,17 L173.4,20.1 Z" fill="#8a8d90"/>
</svg>
</body></html>
